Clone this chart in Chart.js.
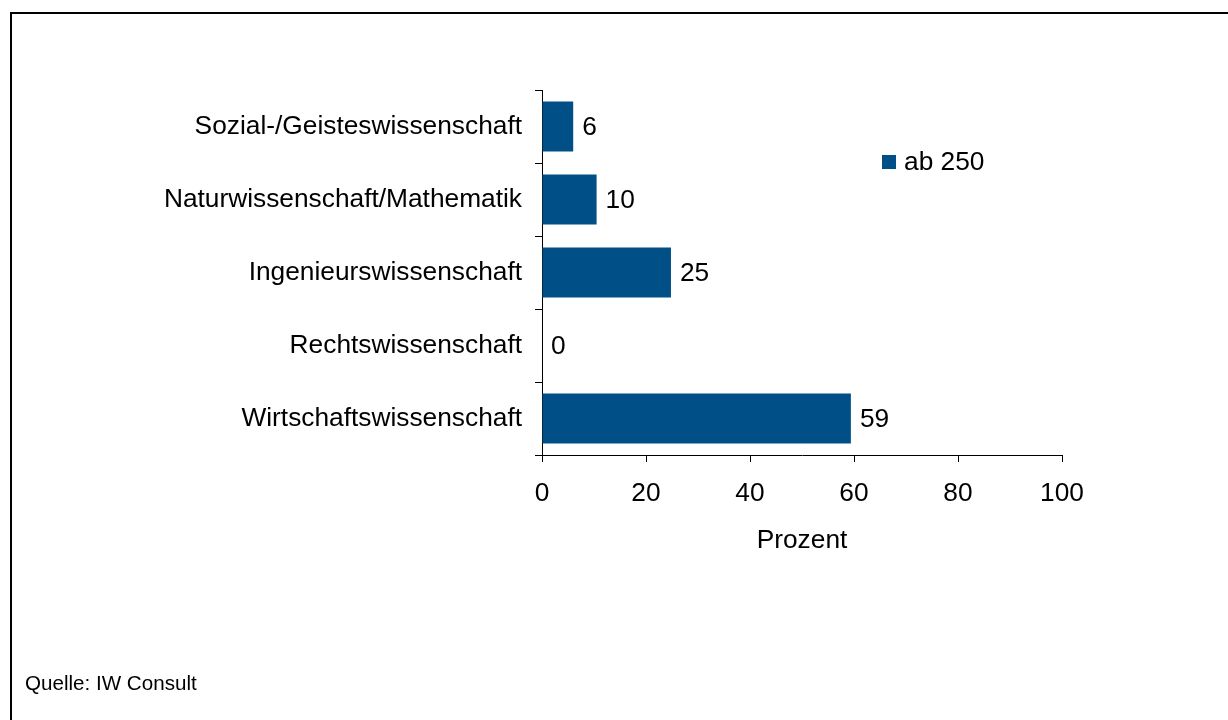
<!DOCTYPE html>
<html>
<head>
<meta charset="utf-8">
<script src="https://cdn.jsdelivr.net/npm/chart.js@4.4.1/dist/chart.umd.min.js"></script>
<style>
  html, body { margin: 0; padding: 0; background: #fff; overflow: hidden; }
  body { width: 1228px; height: 720px; position: relative; font-family: "Liberation Sans", Arial, sans-serif; }
  #frame { position: absolute; left: 10px; top: 12px; width: 1300px; height: 800px; border: 2px solid #000; }
  #wrap { position: absolute; left: 0; top: 0; width: 1228px; height: 720px; }
  #source { position: absolute; left: 25px; top: 671px; font-size: 20.6px; color: #000; }
</style>
</head>
<body>
<div id="frame"></div>
<div id="wrap"><canvas id="chart" width="1228" height="720"></canvas></div>
<div id="source">Quelle: IW Consult</div>
<script>
const categories = [
  'Sozial-/Geisteswissenschaft',
  'Naturwissenschaft/Mathematik',
  'Ingenieurswissenschaft',
  'Rechtswissenschaft',
  'Wirtschaftswissenschaft'
];
const seriesLabel = 'ab 250';
const values = [6.0, 10.5, 24.8, 0, 59.4];
const valueLabels = ['6', '10', '25', '0', '59'];
const xTicks = [0, 20, 40, 60, 80, 100];

const barColor = '#004f87';
const font = { family: '"Liberation Sans", Arial, sans-serif', size: 26.3 };

// value labels next to each bar
const barLabels = {
  id: 'barLabels',
  afterDatasetsDraw(chart) {
    const ctx = chart.ctx;
    const meta = chart.getDatasetMeta(0);
    ctx.save();
    ctx.font = font.size + 'px ' + font.family;
    ctx.fillStyle = '#000';
    ctx.textAlign = 'left';
    ctx.textBaseline = 'middle';
    meta.data.forEach((bar, i) => {
      ctx.fillText(valueLabels[i], bar.x + 9, bar.y + 1);
    });
    ctx.restore();
  }
};

// small legend inside the plot
const sideLegend = {
  id: 'sideLegend',
  afterDraw(chart) {
    const ctx = chart.ctx;
    const ds = chart.data.datasets[0];
    ctx.save();
    ctx.fillStyle = ds.backgroundColor;
    ctx.fillRect(882, 155, 14, 14);
    ctx.font = font.size + 'px ' + font.family;
    ctx.fillStyle = '#000';
    ctx.textAlign = 'left';
    ctx.textBaseline = 'middle';
    ctx.fillText(ds.label, 904, 163);
    ctx.restore();
  }
};

new Chart(document.getElementById('chart').getContext('2d'), {
  type: 'bar',
  data: {
    labels: categories,
    datasets: [{
      label: seriesLabel,
      data: values,
      backgroundColor: barColor,
      borderWidth: 0,
      barPercentage: 0.685,
      categoryPercentage: 1
    }]
  },
  options: {
    indexAxis: 'y',
    responsive: false,
    animation: false,
    layout: { padding: { top: 90, right: 166, left: 0, bottom: 162 } },
    plugins: {
      legend: { display: false },
      tooltip: { enabled: false }
    },
    scales: {
      x: {
        min: 0,
        max: 100,
        afterFit(scale) { scale.height = 103; },
        afterBuildTicks(scale) { scale.ticks = xTicks.map(v => ({ value: v })); },
        grid: { drawOnChartArea: false, tickLength: 7, color: '#000', lineWidth: 1 },
        border: { color: '#000', width: 1 },
        ticks: { color: '#000', font: font, padding: 16, maxRotation: 0 },
        title: { display: true, text: 'Prozent', color: '#000', font: font, padding: { top: 4, bottom: 1 } }
      },
      y: {
        afterFit(scale) { scale.width = 542; },
        grid: { drawOnChartArea: false, tickLength: 7, color: '#000', lineWidth: 1, offset: true },
        border: { color: '#000', width: 1 },
        ticks: { color: '#000', font: font, padding: 13 }
      }
    }
  },
  plugins: [barLabels, sideLegend]
});
</script>
</body>
</html>
